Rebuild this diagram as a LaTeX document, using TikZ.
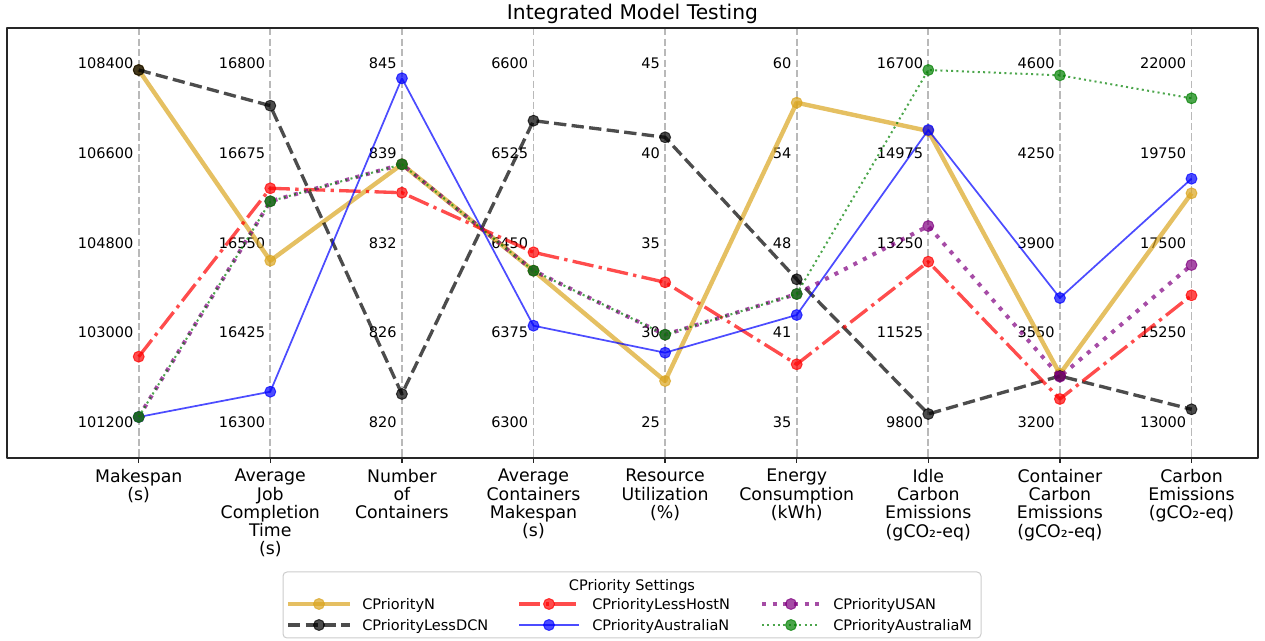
\documentclass[tikz,border=0pt]{standalone}
\usepackage{fontspec}
\setmainfont{DejaVu Sans}
\definecolor{cN}{RGB}{218,165,32}
\definecolor{cDC}{RGB}{0,0,0}
\definecolor{cHost}{RGB}{255,0,0}
\definecolor{cAus}{RGB}{0,0,255}
\definecolor{cUSA}{RGB}{128,0,128}
\definecolor{cAusM}{RGB}{0,128,0}
\begin{document}
\begin{tikzpicture}[x=0.75pt,y=-0.75pt,line join=round,
  every node/.style={inner sep=0pt},
  rejilla/.style={draw=gray!55,line width=1.4pt,dash pattern=on 5.5pt off 2.4pt},
  marco/.style={draw=black!85,line width=1pt},
  valor/.style={anchor=east,font=\fontsize{10.9}{13}\selectfont},
  eje/.style={anchor=north,align=center,font=\fontsize{13}{13.7}\selectfont},
  leyenda/.style={anchor=base west,font=\fontsize{10.9}{13}\selectfont},
  sN/.style={draw=cN,opacity=0.7,line width=3.3pt},
  sDC/.style={draw=cDC,opacity=0.7,line width=2.5pt,dash pattern=on 9.25pt off 4pt},
  sHost/.style={draw=cHost,opacity=0.7,line width=2.5pt,dash pattern=on 16pt off 4pt on 2.5pt off 4pt},
  sAus/.style={draw=cAus,opacity=0.7,line width=1.3pt},
  sUSA/.style={draw=cUSA,opacity=0.7,line width=3pt,dash pattern=on 3pt off 5pt},
  sAusM/.style={draw=cAusM,opacity=0.7,line width=1.5pt,dash pattern=on 1.5pt off 2.5pt},
  mN/.style={fill=cN,draw=cN,opacity=0.7,line width=0.75pt},
  mDC/.style={fill=cDC,draw=cDC,opacity=0.7,line width=0.75pt},
  mHost/.style={fill=cHost,draw=cHost,opacity=0.7,line width=0.75pt},
  mAus/.style={fill=cAus,draw=cAus,opacity=0.7,line width=0.75pt},
  mUSA/.style={fill=cUSA,draw=cUSA,opacity=0.7,line width=0.75pt},
  mAusM/.style={fill=cAusM,draw=cAusM,opacity=0.7,line width=0.75pt}]
  \useasboundingbox (0,0) rectangle (1265,641);

  % Titulo
  \node[anchor=base,font=\fontsize{15.2}{18}\selectfont] (titulo) at (632.5,20) {Integrated Model Testing};

  % Ejes verticales y valores
  \foreach \va/\vb/\vc/\vd/\ve [count=\i] in {108400/106600/104800/103000/101200,
      16800/16675/16550/16425/16300, 845/839/832/826/820, 6600/6525/6450/6375/6300,
      45/40/35/30/25, 60/54/48/41/35, 16700/14975/13250/11525/9800,
      4600/4250/3900/3550/3200, 22000/19750/17500/15250/13000}{
    \pgfmathsetmacro{\xe}{138.7+131.6*(\i-1)}
    \pgfmathsetmacro{\xv}{\xe-5}
    \coordinate (top\i) at (\xe,28);
    \coordinate (bot\i) at (\xe,458);
    \coordinate (tic\i) at (\xe,463);
    \draw[rejilla] (top\i) -- (bot\i);
    \draw[marco] (bot\i) -- (tic\i);
    \node[valor] (val\i-1) at (\xv,63.3) {\va};
    \node[valor] (val\i-2) at (\xv,153.1) {\vb};
    \node[valor] (val\i-3) at (\xv,242.8) {\vc};
    \node[valor] (val\i-4) at (\xv,332.6) {\vd};
    \node[valor] (val\i-5) at (\xv,422.3) {\ve};
  }

  % Nombres de los ejes
  \foreach \lab [count=\i] in {{Makespan\\(s)}, {Average\\Job\\Completion\\Time\\(s)},
      {Number\\of\\Containers}, {Average\\Containers\\Makespan\\(s)},
      {Resource\\Utilization\\(\%)}, {Energy\\Consumption\\(kWh)},
      {Idle\\Carbon\\Emissions\\(gCO₂-eq)}, {Container\\Carbon\\Emissions\\(gCO₂-eq)},
      {Carbon\\Emissions\\(gCO₂-eq)}}{
    \pgfmathsetmacro{\xe}{138.7+131.6*(\i-1)}
    \node[eje] (lab\i) at (\xe,469) {\lab};
  }

  % CPriorityN
  \foreach \yy [count=\i] in {70,260.7,164.3,270.7,381,102.7,131,374,193.3}{
    \pgfmathsetmacro{\xe}{138.7+131.6*(\i-1)}
    \coordinate (N\i) at (\xe,\yy);
  }
  \draw[sN] (N1) \foreach \i in {2,...,9}{ -- (N\i)};
  \foreach \i in {1,...,9} \filldraw[mN] (N\i) circle (4.1pt);

  % CPriorityLessDCN
  \foreach \yy [count=\i] in {70,105.7,394,120.7,137.3,279.3,414,376,409.3}{
    \pgfmathsetmacro{\xe}{138.7+131.6*(\i-1)}
    \coordinate (DC\i) at (\xe,\yy);
  }
  \draw[sDC] (DC1) \foreach \i in {2,...,9}{ -- (DC\i)};
  \foreach \i in {1,...,9} \filldraw[mDC] (DC\i) circle (4.1pt);

  % CPriorityLessHostN
  \foreach \yy [count=\i] in {356.7,188.3,192.7,252.3,282.3,364.3,261.7,399,295.3}{
    \pgfmathsetmacro{\xe}{138.7+131.6*(\i-1)}
    \coordinate (Host\i) at (\xe,\yy);
  }
  \draw[sHost] (Host1) \foreach \i in {2,...,9}{ -- (Host\i)};
  \foreach \i in {1,...,9} \filldraw[mHost] (Host\i) circle (4.1pt);

  % CPriorityAustraliaN
  \foreach \yy [count=\i] in {417,391.7,78.3,325.7,352.7,315,130,298,178.7}{
    \pgfmathsetmacro{\xe}{138.7+131.6*(\i-1)}
    \coordinate (Aus\i) at (\xe,\yy);
  }
  \draw[sAus] (Aus1) \foreach \i in {2,...,9}{ -- (Aus\i)};
  \foreach \i in {1,...,9} \filldraw[mAus] (Aus\i) circle (4.1pt);

  % CPriorityUSAN
  \foreach \yy [count=\i] in {417,201.3,164.3,270.7,334.7,294,226,376.7,265}{
    \pgfmathsetmacro{\xe}{138.7+131.6*(\i-1)}
    \coordinate (USA\i) at (\xe,\yy);
  }
  \draw[sUSA] (USA1) \foreach \i in {2,...,9}{ -- (USA\i)};
  \foreach \i in {1,...,9} \filldraw[mUSA] (USA\i) circle (4.1pt);

  % CPriorityAustraliaM
  \foreach \yy [count=\i] in {417,201.3,164.3,270.7,334.7,294,70,75.3,98.3}{
    \pgfmathsetmacro{\xe}{138.7+131.6*(\i-1)}
    \coordinate (AusM\i) at (\xe,\yy);
  }
  \draw[sAusM] (AusM1) \foreach \i in {2,...,9}{ -- (AusM\i)};
  \foreach \i in {1,...,9} \filldraw[mAusM] (AusM\i) circle (4.1pt);

  % Marco
  \draw[marco] (7,28) rectangle (1258,458);

  % Leyenda
  \draw[draw=black!20,fill=white,line width=0.75pt,rounded corners=3pt] (283,572) rectangle (981,638);
  \node[anchor=base,font=\fontsize{10.9}{13}\selectfont] (leytit) at (632,590) {CPriority Settings};
  \foreach \s/\xa/\xm/\xb/\xt/\yl/\txt in {N/288/319/350/362/609.5/CPriorityN,
      DC/288/319/350/362/630.5/CPriorityLessDCN,
      Host/519/549/579/592/609.5/CPriorityLessHostN,
      Aus/519/549/579/592/630.5/CPriorityAustraliaN,
      USA/762/791/820/833/609.5/CPriorityUSAN,
      AusM/762/791/820/833/630.5/CPriorityAustraliaM}{
    \pgfmathsetmacro{\ym}{\yl-5.5}
    \coordinate (ley\s a) at (\xa,\ym);
    \coordinate (ley\s m) at (\xm,\ym);
    \coordinate (ley\s b) at (\xb,\ym);
    \node[leyenda] (ley\s t) at (\xt,\yl) {\txt};
  }
  \draw[sN] (leyNa) -- (leyNb);
  \filldraw[mN] (leyNm) circle (4.1pt);
  \draw[sDC] (leyDCa) -- (leyDCb);
  \filldraw[mDC] (leyDCm) circle (4.1pt);
  \draw[sHost] (leyHosta) -- (leyHostb);
  \filldraw[mHost] (leyHostm) circle (4.1pt);
  \draw[sAus] (leyAusa) -- (leyAusb);
  \filldraw[mAus] (leyAusm) circle (4.1pt);
  \draw[sUSA] (leyUSAa) -- (leyUSAb);
  \filldraw[mUSA] (leyUSAm) circle (4.1pt);
  \draw[sAusM] (leyAusMa) -- (leyAusMb);
  \filldraw[mAusM] (leyAusMm) circle (4.1pt);
\end{tikzpicture}
\end{document}
